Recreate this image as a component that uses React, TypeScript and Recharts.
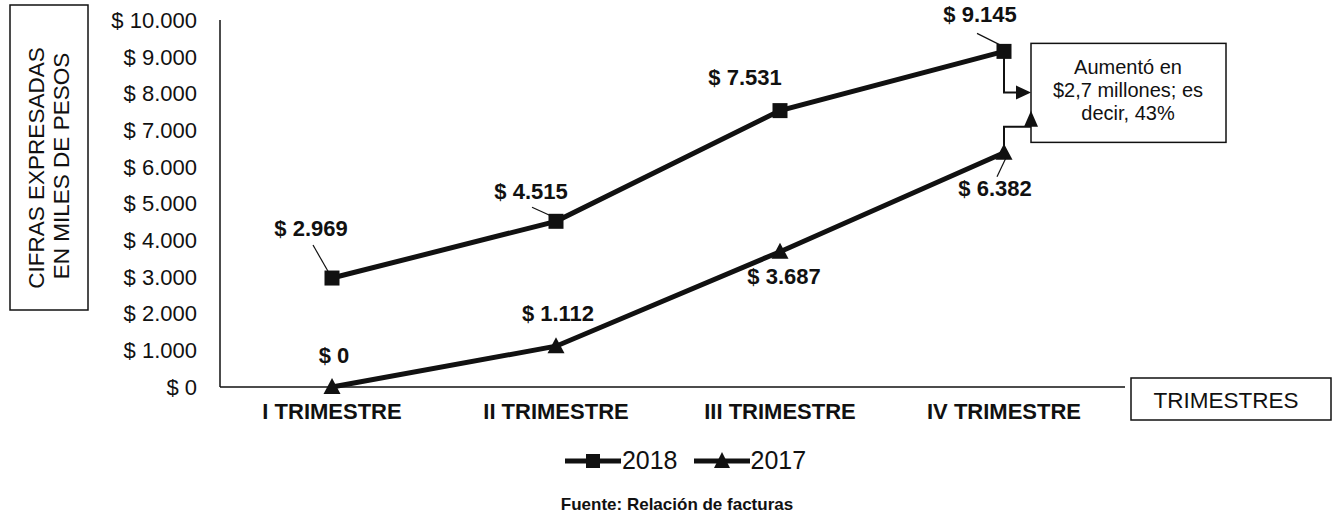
import React from 'react';
import { LineChart, Line, XAxis, YAxis, Legend, LabelList } from 'recharts';

const trimestres = ['I TRIMESTRE', 'II TRIMESTRE', 'III TRIMESTRE', 'IV TRIMESTRE'];
const ventas2018 = [2969, 4515, 7531, 9145];
const ventas2017 = [0, 1112, 3687, 6382];
const yTicks = [0, 1000, 2000, 3000, 4000, 5000, 6000, 7000, 8000, 9000, 10000];
const series = ['2018', '2017'];
const nota = ['Aumentó en', '$2,7 millones; es', 'decir, 43%'];

const data = trimestres.map((t, i) => ({ t, v2018: ventas2018[i], v2017: ventas2017[i] }));

const FONT = '"Liberation Sans", Arial, sans-serif';
const INK = '#111';

// where each value label sits relative to its point (and its leader line)
const pos2018 = [
  { dx: -21, dy: -50, lead: [-19, -33, -3, -5] },
  { dx: -25, dy: -30, lead: [-24, -14, -2, -4] },
  { dx: -35, dy: -33 },
  { dx: -24, dy: -37, lead: [-27, -18, -3, -6] },
];
const pos2017 = [
  { dx: 2, dy: -32 },
  { dx: 2, dy: -33 },
  { dx: 4, dy: 25 },
  { dx: -9, dy: 36, lead: [2, 5, -7, 24] },
];

const fmt = (v: number) => '$ ' + String(v).replace(/\B(?=(\d{3})+(?!\d))/g, '.');

const square = (props: any) => {
  const { cx, cy, index } = props;
  return <rect key={`s-${index}`} x={cx - 7.5} y={cy - 7.5} width={15} height={15} fill={INK} />;
};

const triangle = (props: any) => {
  const { cx, cy, index } = props;
  return <path key={`t-${index}`} d={`M${cx},${cy - 9} L${cx + 8.5},${cy + 7} L${cx - 8.5},${cy + 7} Z`} fill={INK} />;
};

const noteFrom2018 = (x: number, y: number) => (
  <g>
    <rect x={x + 27} y={y - 8} width={195} height={99} fill="#fff" stroke={INK} strokeWidth={1.5} />
    {nota.map((s, i) => (
      <text key={s} x={x + 124} y={y + 16 + i * 23} dy="0.35em" textAnchor="middle" fontSize={20} fill={INK} fontFamily={FONT}>
        {s}
      </text>
    ))}
    <polyline points={`${x},${y} ${x},${y + 41} ${x + 14},${y + 41}`} fill="none" stroke={INK} strokeWidth={2} />
    <path d={`M${x + 12},${y + 34} L${x + 27},${y + 41} L${x + 12},${y + 48} Z`} fill={INK} />
  </g>
);

const noteFrom2017 = (x: number, y: number) => (
  <g>
    <polyline points={`${x},${y} ${x},${y - 26} ${x + 27},${y - 26}`} fill="none" stroke={INK} strokeWidth={2} />
    <path d={`M${x + 27},${y - 42} L${x + 34},${y - 26} L${x + 20},${y - 26} Z`} fill={INK} />
  </g>
);

const makeLabel = (pos: any[], note: (x: number, y: number) => React.ReactNode) => (props: any) => {
  const x = Number(props.x);
  const y = Number(props.y);
  const p = pos[props.index];
  if (!p) return null;
  return (
    <g key={`l-${props.index}`}>
      {p.lead && (
        <line x1={x + p.lead[0]} y1={y + p.lead[1]} x2={x + p.lead[2]} y2={y + p.lead[3]} stroke={INK} strokeWidth={1.2} />
      )}
      <text x={x + p.dx} y={y + p.dy} dy="0.35em" textAnchor="middle" fontSize={22} fontWeight="bold" fill={INK} fontFamily={FONT}>
        {fmt(props.value)}
      </text>
      {props.index === 3 && note(x, y)}
    </g>
  );
};

const LegendBody = () => (
  <div style={{ display: 'flex', justifyContent: 'center', alignItems: 'center', fontFamily: FONT, fontSize: 25, color: INK, paddingLeft: 38 }}>
    {series.map((n, i) => (
      <div key={n} style={{ display: 'flex', alignItems: 'center', marginRight: i === 0 ? 16 : 0 }}>
        <svg width={56} height={24}>
          <line x1={0} y1={12} x2={56} y2={12} stroke={INK} strokeWidth={5} />
          {i === 0 ? (
            <rect x={21} y={5} width={14} height={14} fill={INK} />
          ) : (
            <path d="M28,3 L36,19 L20,19 Z" fill={INK} />
          )}
        </svg>
        <span style={{ marginLeft: 1 }}>{n}</span>
      </div>
    ))}
  </div>
);

export default function App() {
  return (
    <div style={{ position: 'absolute', left: 0, top: 0, width: 1333, height: 520, background: '#fff' }}>
      <LineChart width={1333} height={520} data={data} margin={{ top: 20, right: 208, bottom: 93, left: 0 }} style={{ fontFamily: FONT }}>
        <XAxis
          dataKey="t"
          height={40}
          padding={{ left: 112, right: 121 }}
          axisLine={{ stroke: INK, strokeWidth: 1.5 }}
          tickLine={false}
          tickSize={0}
          tickMargin={16}
          interval={0}
          tick={{ fill: INK, fontSize: 22, fontWeight: 'bold', fontFamily: FONT }}
        />
        <YAxis
          width={220}
          domain={[0, 10000]}
          ticks={yTicks}
          interval={0}
          tickFormatter={fmt}
          axisLine={{ stroke: INK, strokeWidth: 1.5 }}
          tickLine={false}
          tickSize={0}
          tickMargin={23}
          tick={{ fill: INK, fontSize: 22, fontFamily: FONT }}
        />
        <Legend
          verticalAlign="middle"
          align="center"
          content={<LegendBody />}
          wrapperStyle={{ top: 446, left: 0, width: 1333, height: 28 }}
        />
        <Line dataKey="v2018" name={series[0]} type="linear" stroke={INK} strokeWidth={5} dot={square} activeDot={false} isAnimationActive={false}>
          <LabelList dataKey="v2018" content={makeLabel(pos2018, noteFrom2018)} />
        </Line>
        <Line dataKey="v2017" name={series[1]} type="linear" stroke={INK} strokeWidth={5} dot={triangle} activeDot={false} isAnimationActive={false}>
          <LabelList dataKey="v2017" content={makeLabel(pos2017, noteFrom2017)} />
        </Line>
      </LineChart>
      <svg width={1333} height={520} style={{ position: 'absolute', left: 0, top: 0, pointerEvents: 'none' }} fontFamily={FONT}>
        <rect x={10} y={5} width={78} height={305} fill="none" stroke={INK} strokeWidth={1.5} />
        <text transform="translate(36,168) rotate(-90)" dy="0.35em" textAnchor="middle" fontSize={22.5} fill={INK}>
          CIFRAS EXPRESADAS
        </text>
        <text transform="translate(61,166) rotate(-90)" dy="0.35em" textAnchor="middle" fontSize={22.5} fill={INK}>
          EN MILES DE PESOS
        </text>
        <rect x={1131} y={378} width={200} height={42} fill="none" stroke={INK} strokeWidth={1.5} />
        <text x={1226} y={400} dy="0.35em" textAnchor="middle" fontSize={22.5} fill={INK}>
          TRIMESTRES
        </text>
        <text x={677} y={504} dy="0.35em" textAnchor="middle" fontSize={17} fontWeight="bold" fill={INK}>
          Fuente: Relación de facturas
        </text>
      </svg>
    </div>
  );
}
